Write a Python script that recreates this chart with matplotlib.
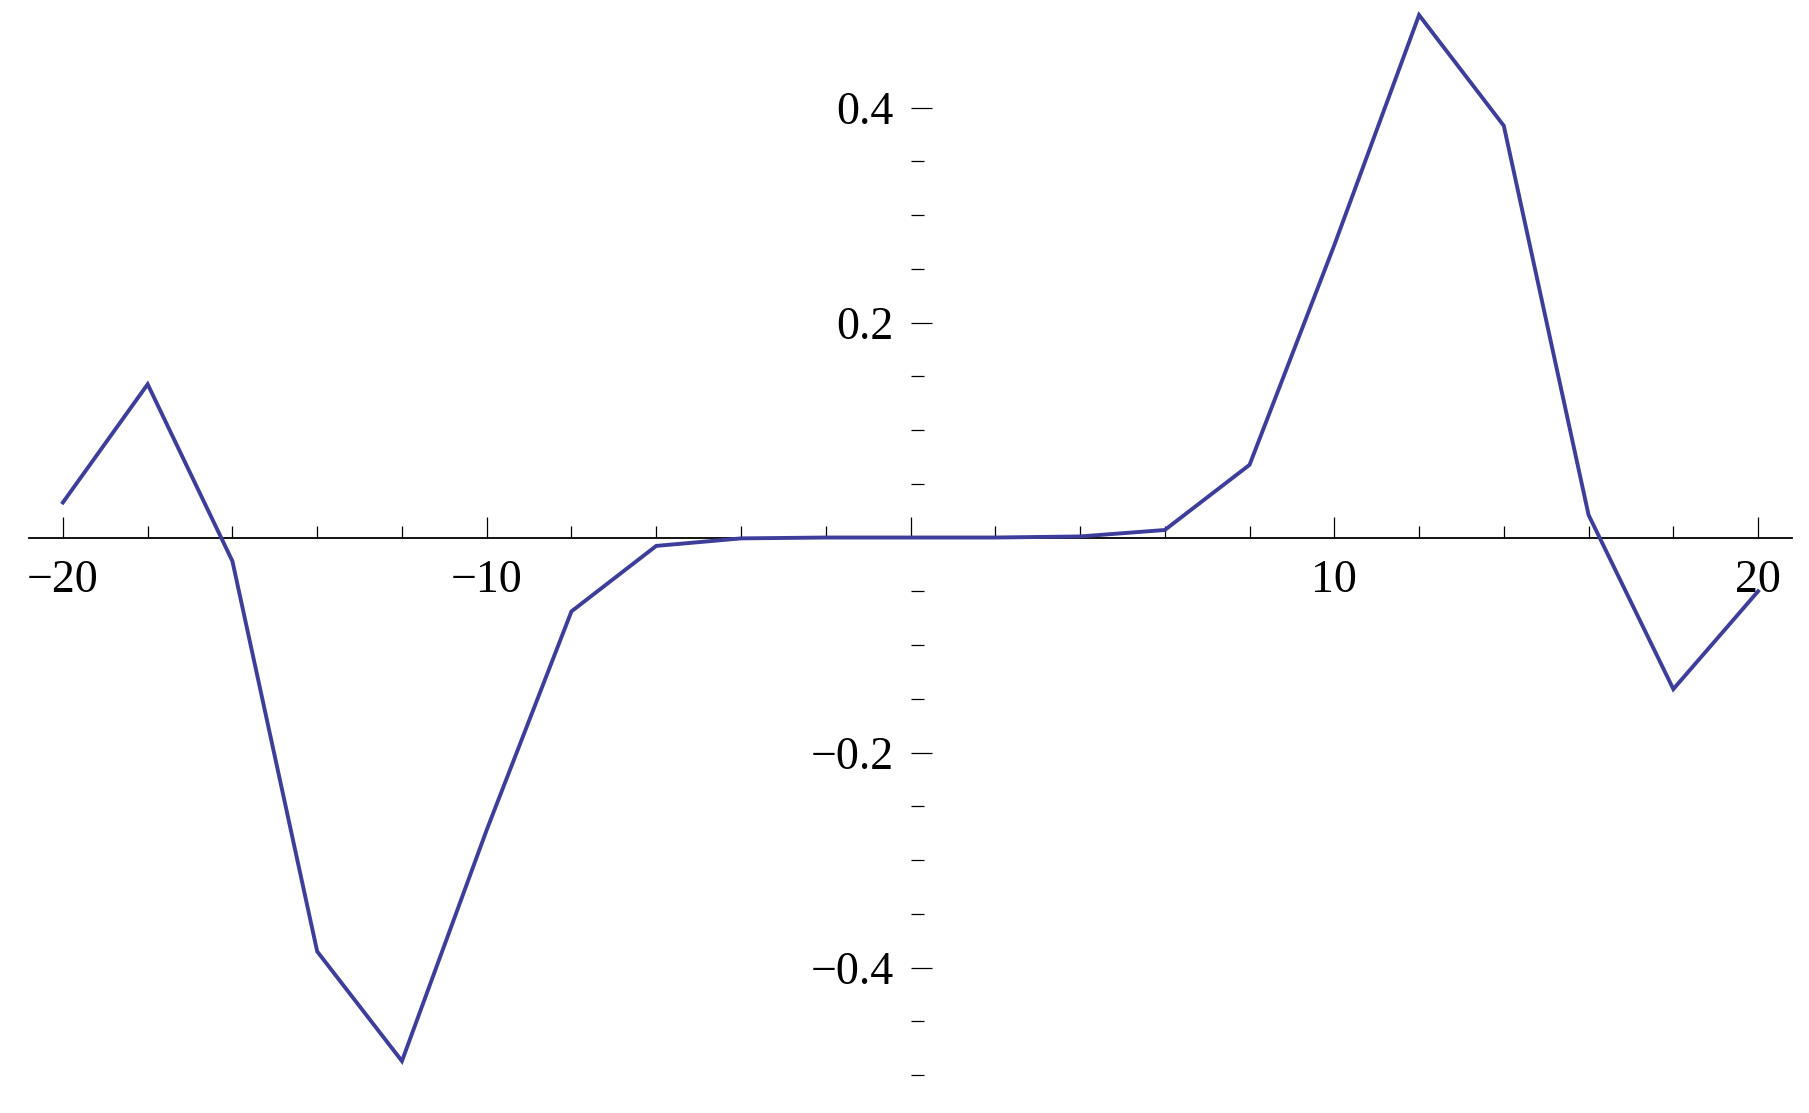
import numpy as np
import matplotlib.pyplot as plt

# sample points (step 2)
x = [-20, -18, -16, -14, -12, -10, -8, -6, -4, -2, 0, 2, 4, 6, 8, 10, 12, 14, 16, 18, 20]
y = [0.0326, 0.1426, -0.0220, -0.3850, -0.4870, -0.2720, -0.0687, -0.0078, -0.0008, 0.0, 0.0,
     0.0, 0.0010, 0.0070, 0.0676, 0.2720, 0.4860, 0.3830, 0.0210, -0.1410, -0.0500]

x_major = [-20, -10, 0, 10, 20]
x_major_labels = ["\u221220", "\u221210", "", "10", "20"]
x_minor = [-18, -16, -14, -12, -8, -6, -4, -2, 2, 4, 6, 8, 12, 14, 16, 18]
y_major = [-0.4, -0.2, 0.2, 0.4]
y_major_labels = ["\u22120.4", "\u22120.2", "0.2", "0.4"]
y_minor = [-0.5, -0.45, -0.35, -0.3, -0.25, -0.15, -0.1, -0.05, 0.05, 0.1, 0.15, 0.25, 0.3, 0.35]

plt.rcParams['font.family'] = ['Liberation Serif', 'DejaVu Serif']

fig = plt.figure(figsize=(18.09, 11.13), dpi=100)
ax = fig.add_axes([29 / 1809, 0, (1792 - 29) / 1809, 1])
ax.plot(x, y, color="#3d3d9c", lw=2.8, solid_joinstyle="miter", clip_on=False, zorder=3)

ax.set_xlim(-20.8, 20.8)
ax.set_ylim(-0.5353, 0.5)

for s in ["top", "right"]:
    ax.spines[s].set_visible(False)
ax.spines["bottom"].set_position(("data", 0))
ax.spines["bottom"].set_linewidth(1.3)
ax.spines["left"].set_position(("data", 0))
ax.spines["left"].set_color("none")

ax.set_xticks(x_major)
ax.set_xticklabels(x_major_labels)
ax.set_xticks(x_minor, minor=True)
ax.set_yticks(y_major)
ax.set_yticklabels(y_major_labels)
ax.set_yticks(y_minor, minor=True)

ax.tick_params(axis="both", which="both", direction="in", width=0.9, color="black",
               labelsize=33)
ax.tick_params(axis="both", which="major", length=15)
ax.tick_params(axis="both", which="minor", length=9)
ax.tick_params(axis="x", which="major", pad=16)
ax.tick_params(axis="y", which="major", pad=12)

fig.savefig("out.png", dpi=100)
